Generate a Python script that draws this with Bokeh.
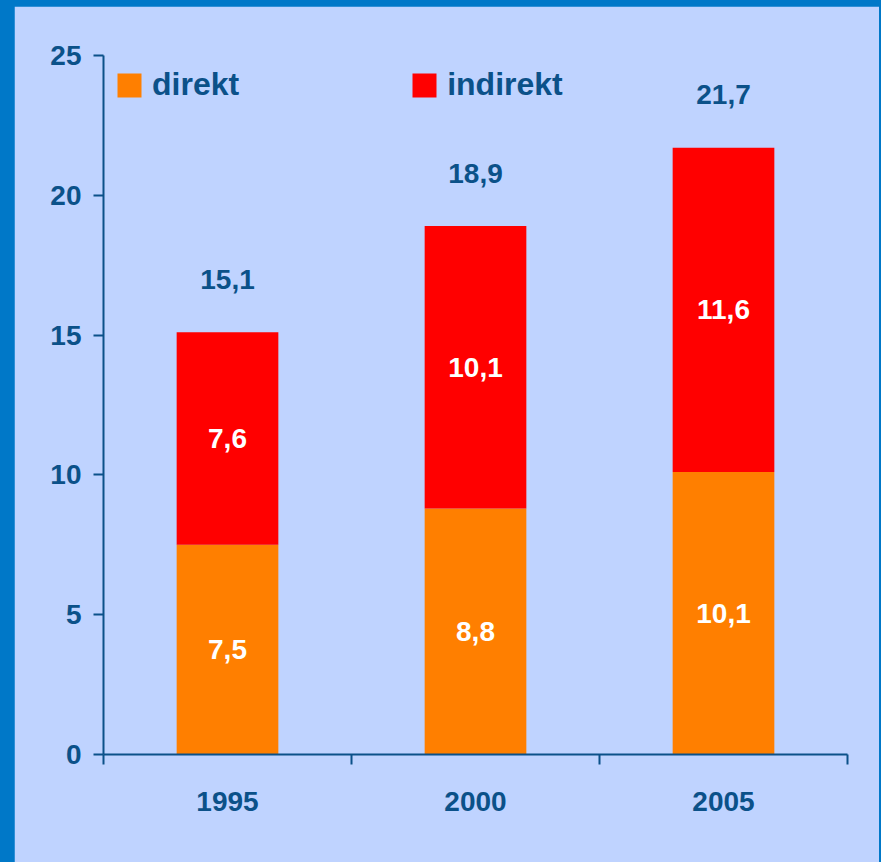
from bokeh.plotting import figure
from bokeh.models import (Range1d, FixedTicker, Legend, LegendItem, ColumnDataSource,
                          GlobalInlineStyleSheet)
from bokeh.core.properties import value
from bokeh.embed import file_html
from bokeh.resources import INLINE

# ---- data ----
years = ["1995", "2000", "2005"]
series_names = ["direkt", "indirekt"]
direkt = [7.5, 8.8, 10.1]
indirekt = [7.6, 10.1, 11.6]
totals = [15.1, 18.9, 21.7]
y_ticks = [0, 5, 10, 15, 20, 25]

# ---- styles ----
BG = "#BFD3FF"
TXT = "#0B5189"
ORANGE = "#FF7F00"
RED = "#FF0000"
FONT = "'Liberation Sans', Arial, sans-serif"
FS = "28px"


def fmt(v):
    return f"{v:.1f}".replace(".", ",")


xpos = [i + 0.5 for i in range(len(years))]
src = ColumnDataSource(dict(
    x=xpos,
    direkt=direkt,
    indirekt=indirekt,
    total=totals,
    d_mid=[d / 2 for d in direkt],
    i_mid=[d + i / 2 for d, i in zip(direkt, indirekt)],
    d_lab=[fmt(v) for v in direkt],
    i_lab=[fmt(v) for v in indirekt],
    t_lab=[fmt(v) for v in totals],
))

p = figure(width=865, height=856, x_range=Range1d(0, len(years)), y_range=Range1d(0, 25),
           output_backend="svg", toolbar_location=None,
           min_border_left=89, min_border_right=32, min_border_top=49, min_border_bottom=108,
           background_fill_color=BG, border_fill_color=BG,
           outline_line_color=BG, outline_line_width=2)
p.stylesheets = [GlobalInlineStyleSheet(css="html, body { background-color: #0078C8; } body { margin: 6px 2px 0 14px !important; }")]
p.xgrid.visible = False
p.ygrid.visible = False

rs = p.vbar_stack(series_names, x="x", width=0.41, source=src,
                  color=[ORANGE, RED], line_color=None)

# value labels
p.text(x="x", y="d_mid", text="d_lab", source=src, text_align="center", text_baseline="middle",
       text_color="white", text_font=value(FONT), text_font_size=FS, text_font_style="bold")
p.text(x="x", y="i_mid", text="i_lab", source=src, text_align="center", text_baseline="middle",
       text_color="white", text_font=value(FONT), text_font_size=FS, text_font_style="bold")
p.text(x="x", y="total", text="t_lab", source=src, text_align="center", text_baseline="middle",
       y_offset=-53, text_color=TXT, text_font=value(FONT), text_font_size=FS,
       text_font_style="bold")

# legend
legend = Legend(items=[LegendItem(label=n, renderers=[r]) for n, r in zip(series_names, rs)],
                orientation="horizontal", location="top_left",
                background_fill_alpha=0, border_line_color=None,
                glyph_width=30, glyph_height=30, label_standoff=8, spacing=170,
                padding=0, margin=11,
                label_text_font=FONT, label_text_font_size="32px", label_text_font_style="bold",
                label_text_color=TXT)
p.add_layout(legend)

# y axis
ya = p.yaxis[0]
ya.ticker = FixedTicker(ticks=y_ticks)
ya.major_tick_out = 10
ya.major_tick_in = 0
ya.minor_tick_out = 0
ya.minor_tick_in = 0
ya.axis_line_color = TXT
ya.axis_line_width = 2
ya.major_tick_line_color = TXT
ya.major_tick_line_width = 2
ya.major_label_standoff = 12
ya.major_label_text_font = FONT
ya.major_label_text_font_size = FS
ya.major_label_text_font_style = "bold"
ya.major_label_text_color = TXT

# x axis: labels at bar centres, tick marks between categories
xa = p.xaxis[0]
xa.ticker = FixedTicker(ticks=xpos, minor_ticks=list(range(len(years) + 1)))
xa.major_label_overrides = {x: y for x, y in zip(xpos, years)}
xa.major_tick_out = 0
xa.major_tick_in = 0
xa.minor_tick_out = 10
xa.minor_tick_in = 0
xa.minor_tick_line_color = TXT
xa.minor_tick_line_width = 2
xa.axis_line_color = TXT
xa.axis_line_width = 2
xa.major_label_standoff = 27
xa.major_label_text_font = FONT
xa.major_label_text_font_size = FS
xa.major_label_text_font_style = "bold"
xa.major_label_text_color = TXT

open("out.html", "w").write(file_html(p, INLINE))
